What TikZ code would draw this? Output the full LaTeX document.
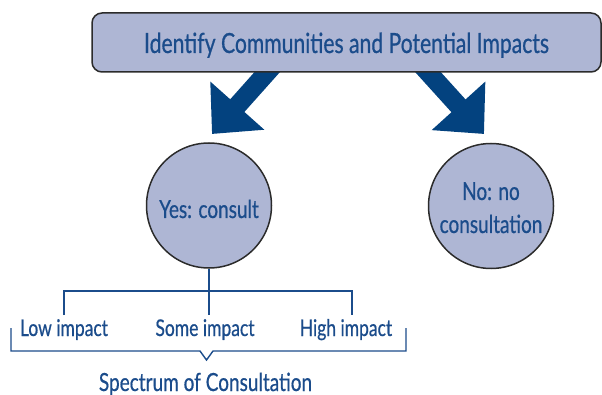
\documentclass[tikz,border=0pt]{standalone}
\usepackage{fontspec}
\setmainfont{Lato}[FakeStretch=0.76,FakeBold=0.6]
\usetikzlibrary{arrows.meta}
\definecolor{boxfill}{HTML}{AEB6D4}
\definecolor{txt}{HTML}{1B4C8B}
\definecolor{arr}{HTML}{03427F}
\definecolor{edge}{HTML}{2B2B2B}
\tikzset{
  titlebox/.style={draw=edge, line width=1.5pt, fill=boxfill, rounded corners=10pt,
    minimum width=509pt, minimum height=59pt, inner sep=0pt, text=txt,
    font=\fontsize{27.8}{30}\selectfont},
  bubble/.style={circle, draw=edge, line width=1.5pt, fill=boxfill, minimum size=125pt,
    inner sep=0pt, text=txt, align=center, font=\fontsize{25}{33}\selectfont},
  bigarrow/.style={draw=arr, line width=19pt, -{Triangle[width=70pt,length=38pt]}, color=arr},
  bracket/.style={draw=txt, line width=1.4pt},
  lbl/.style={text=txt, anchor=base, inner sep=0pt, font=\fontsize{23}{26}\selectfont},
}
\begin{document}
\begin{tikzpicture}[x=1pt,y=-1pt]
\useasboundingbox (0,0) rectangle (602,395);
% arrows (drawn first, the box covers their start)
\coordinate (ls) at (278,60);
\coordinate (lt) at (212,134);
\coordinate (rs) at (417,60);
\coordinate (rt) at (484,134);
\draw[bigarrow] (ls) -- (lt);
\draw[bigarrow] (rs) -- (rt);
% title box
\node[titlebox, text height=21pt, text depth=0pt] (title) at (346.5,42.5) {Identify Communities and Potential Impacts};
% circles
\node[bubble, text height=25pt, text depth=0pt] (yes) at (209,205.5) {Yes: consult};
\node[bubble] (no) at (491,206) {\raisebox{0pt}[10pt][22pt]{\begin{tabular}[t]{@{}c@{}}No: no\\consultation\end{tabular}}};
% fork
\coordinate (fl) at (64,315);
\coordinate (fr) at (352,315);
\coordinate (fc) at (209,315);
\draw[bracket] (yes.south) -- (fc);
\draw[bracket] (fl) -- (64,291) -- (352,291) -- (fr);
% labels
\node[lbl] (low) at (64,336) {Low impact};
\node[lbl] (some) at (205,336) {Some impact};
\node[lbl] (high) at (346,336) {High impact};
% lower brace
\coordinate (bl) at (11,328);
\coordinate (br) at (406,328);
\coordinate (bt) at (206.5,360);
\draw[bracket] (bl) -- (11,351) -- (200,351) -- (bt) -- (213,351) -- (406,351) -- (br);
\node[lbl, font=\fontsize{25}{28}\selectfont] (spec) at (205.5,391) {Spectrum of Consultation};
\end{tikzpicture}
\end{document}
